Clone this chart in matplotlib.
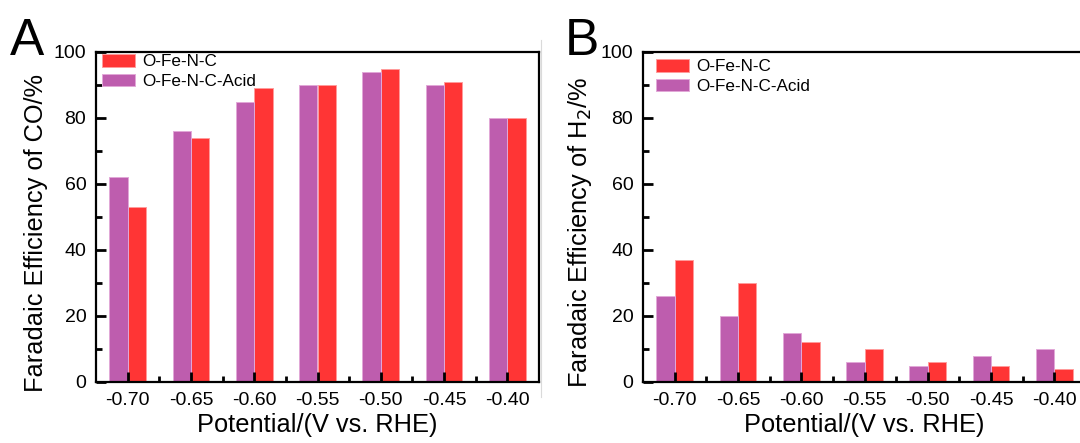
import matplotlib
matplotlib.use("Agg")
import matplotlib.pyplot as plt
from matplotlib.lines import Line2D
from matplotlib.ticker import MultipleLocator, FixedLocator
import numpy as np

plt.rcParams['font.family'] = ['Liberation Sans', 'DejaVu Sans']

potentials = [-0.70, -0.65, -0.60, -0.55, -0.50, -0.45, -0.40]
tick_labels = ["-0.70", "-0.65", "-0.60", "-0.55", "-0.50", "-0.45", "-0.40"]

co_ofenc = [53, 74, 89, 90, 95, 91, 80]
co_acid = [62, 76, 85, 90, 94, 90, 80]
h2_ofenc = [37, 30, 12, 10, 6, 5, 4]
h2_acid = [26, 20, 15, 6, 5, 8, 10]

RED = "#FF3535"
PURPLE = "#BE5DAE"

W, H = 1080, 443
AX_W, AX_H = 443, 330
fig = plt.figure(figsize=(W / 100, H / 100), dpi=100)

def make_panel(left_px, ofenc, acid, ylabel, letter, letter_x, ylabel_x, leg_dx, leg_dy):
    ax = fig.add_axes([left_px / W, (H - 382) / H, AX_W / W, AX_H / H])
    x = np.array(potentials)
    w = 0.0145
    ax.bar(x + w / 2, ofenc, width=w, color=RED, edgecolor="#FF9C9C", linewidth=0.7, label="O-Fe-N-C")
    ax.bar(x - w / 2, acid, width=w, color=PURPLE, edgecolor="#E2A8D8", linewidth=0.7, label="O-Fe-N-C-Acid")
    ax.set_xlim(-0.725, -0.375)
    ax.set_ylim(0, 100)
    ax.set_xticks(potentials)
    ax.set_xticklabels(tick_labels)
    ax.xaxis.set_minor_locator(FixedLocator([p + 0.025 for p in potentials[:-1]]))
    ax.yaxis.set_major_locator(MultipleLocator(20))
    ax.yaxis.set_minor_locator(MultipleLocator(10))
    ax.tick_params(which="major", direction="in", length=7, width=2, labelsize=14, pad=7)
    ax.tick_params(which="minor", direction="in", length=4, width=2)
    ax.tick_params(axis="y", which="both", right=False)
    ax.tick_params(axis="x", which="both", top=False)
    for s in ax.spines.values():
        s.set_linewidth(1.6)
    ax.set_xlabel("Potential/(V vs. RHE)", fontsize=18.3, labelpad=3)
    ax.set_ylabel(ylabel, fontsize=18.3)
    ax.yaxis.set_label_coords((ylabel_x - left_px) / AX_W, 0.5 - 16 / AX_H)
    handles, labels = ax.get_legend_handles_labels()
    ax.legend(handles, labels, loc="upper left",
              bbox_to_anchor=(leg_dx / AX_W, 1 - leg_dy / AX_H), frameon=False,
              fontsize=12.3, handlelength=1.95, handleheight=0.75, handletextpad=0.4,
              labelspacing=0.27, borderaxespad=0, borderpad=0)
    fig.text(letter_x / W, (H - 55) / H, letter, fontsize=37, ha="left", va="baseline")
    return ax

make_panel(96, co_ofenc, co_acid, "Faradaic Efficiency of CO/%", "A", 10, 48, 6, 2)
make_panel(643, h2_ofenc, h2_acid, "Faradaic Efficiency of H$_2$/%", "B", 565, 594, 13, 7)

fig.add_artist(Line2D([541 / W, 541 / W], [(H - 397) / H, (H - 40) / H], color="#DADADA", lw=0.8))

fig.savefig("out.png", dpi=100)
